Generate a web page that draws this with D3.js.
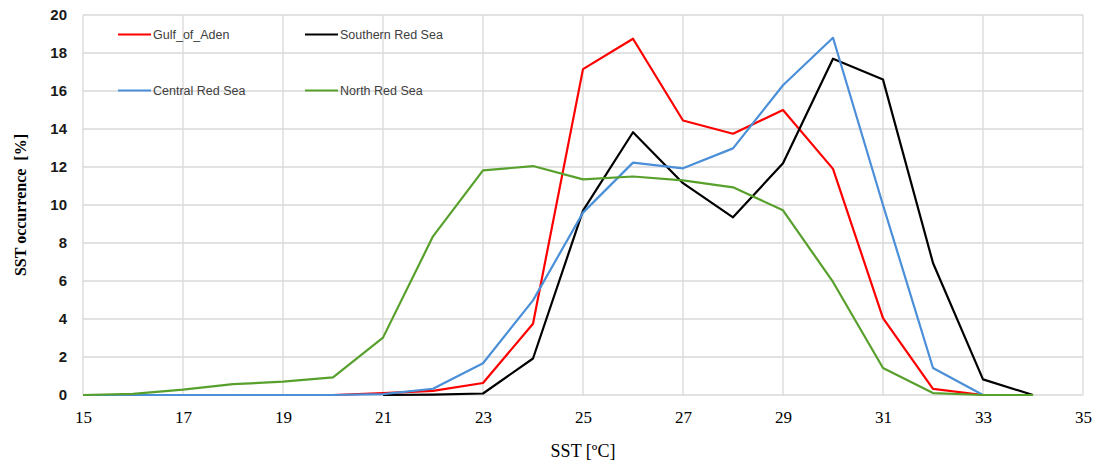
<!DOCTYPE html>
<html>
<head>
<meta charset="utf-8">
<script src="https://cdn.jsdelivr.net/npm/d3@7"></script>
<style>
  body { margin: 0; background: #fff; }
  svg { display: block; }
</style>
</head>
<body>
<script>
(function (d3) {
  "use strict";

  /***** Data *****/
  var sst = d3.range(15, 35); // 15 .. 34
  var seriesNames = ["Gulf_of_Aden", "Southern Red Sea", "Central Red Sea", "North Red Sea"];
  var seriesColors = ["#ff0000", "#000000", "#4a8fd8", "#58a02c"];

  // null = no value for that temperature
  var gulfOfAden = [null, null, null, null, null, 0, 0.1, 0.22, 0.63, 3.75, 17.15, 18.75, 14.45, 13.75, 15.0, 11.9, 4.05, 0.32, 0, null];
  var southernRedSea = [null, null, null, null, null, null, 0, 0.02, 0.08, 1.92, 9.7, 13.83, 11.15, 9.35, 12.2, 17.7, 16.6, 6.95, 0.82, 0];
  var centralRedSea = [0, 0, 0, 0, 0, 0, 0.05, 0.33, 1.67, 4.98, 9.6, 12.23, 11.93, 12.98, 16.3, 18.8, 10.0, 1.42, 0, null];
  var northRedSea = [0, 0.06, 0.28, 0.57, 0.7, 0.93, 3.02, 8.35, 11.82, 12.05, 11.35, 11.5, 11.3, 10.93, 9.72, 5.95, 1.42, 0.1, 0, 0];

  var xTicks = d3.range(15, 36, 2);
  var yTicks = d3.range(0, 21, 2);

  /***** Configuration *****/
  var margin = { top: 15, right: 19, bottom: 69, left: 83 };
  var width = 1102 - margin.left - margin.right;
  var height = 464 - margin.top - margin.bottom;

  /***** Scales *****/
  var x = d3.scaleLinear().domain([15, 35]).range([0, width]);
  var y = d3.scaleLinear().domain([0, 20]).range([height, 0]);

  var svg = d3.select("body")
    .append("svg")
    .attr("width", width + margin.left + margin.right)
    .attr("height", height + margin.top + margin.bottom);

  var g = svg.append("g")
    .attr("transform", "translate(" + margin.left + "," + margin.top + ")");

  /***** Grid *****/
  g.append("g")
    .selectAll("line.hgrid")
    .data(yTicks)
    .join("line")
    .attr("x1", 0).attr("x2", width)
    .attr("y1", d => y(d)).attr("y2", d => y(d))
    .attr("stroke", "#d9d9d9").attr("stroke-width", 1.3);

  g.append("g")
    .selectAll("line.vgrid")
    .data(xTicks)
    .join("line")
    .attr("x1", d => x(d)).attr("x2", d => x(d))
    .attr("y1", 0).attr("y2", height)
    .attr("stroke", "#d9d9d9").attr("stroke-width", 1.3);

  /***** Axes *****/
  var yAxis = g.append("g")
    .call(d3.axisLeft(y).tickValues(yTicks).tickSize(0).tickPadding(16));
  yAxis.select(".domain").remove();
  yAxis.selectAll("text")
    .style("font-family", "'Liberation Sans', Arial, sans-serif")
    .style("font-weight", "bold")
    .style("font-size", "15px")
    .attr("fill", "#1a1a1a");

  var xAxis = g.append("g")
    .attr("transform", "translate(0," + height + ")")
    .call(d3.axisBottom(x).tickValues(xTicks).tickSize(0).tickPadding(16));
  xAxis.select(".domain").remove();
  xAxis.selectAll("text")
    .style("font-family", "'Liberation Serif', 'Times New Roman', serif")
    .style("font-size", "17px")
    .attr("fill", "#000");

  /***** Lines *****/
  var allSeries = [gulfOfAden, southernRedSea, centralRedSea, northRedSea];
  var line = d3.line()
    .defined(d => d.v !== null)
    .x(d => x(d.t))
    .y(d => y(d.v));

  allSeries.forEach(function (vals, i) {
    var pts = sst.map((t, j) => ({ t: t, v: vals[j] }));
    g.append("path")
      .datum(pts)
      .attr("fill", "none")
      .attr("stroke", seriesColors[i])
      .attr("stroke-width", 2.2)
      .attr("stroke-linejoin", "round")
      .attr("d", line);
  });

  /***** Legend *****/
  var legendPos = [[118, 34.5], [305, 34.5], [118, 90.5], [305, 90.5]];
  var legend = svg.append("g");
  seriesNames.forEach(function (name, i) {
    var p = legendPos[i];
    legend.append("line")
      .attr("x1", p[0]).attr("x2", p[0] + 33)
      .attr("y1", p[1]).attr("y2", p[1])
      .attr("stroke", seriesColors[i]).attr("stroke-width", 2.2);
    legend.append("text")
      .attr("x", p[0] + 35).attr("y", p[1] + 4.5)
      .style("font-family", "'Liberation Sans', Arial, sans-serif")
      .style("font-size", "12.5px")
      .attr("fill", "#404040")
      .text(name);
  });

  /***** Axis titles *****/
  svg.append("text")
    .attr("x", margin.left + x(25)).attr("y", 457)
    .attr("text-anchor", "middle")
    .style("font-family", "'Liberation Serif', 'Times New Roman', serif")
    .style("font-size", "18px")
    .text("SST [ºC]");

  svg.append("text")
    .attr("transform", "translate(26," + (margin.top + y(10)) + ") rotate(-90)")
    .attr("text-anchor", "middle")
    .style("font-family", "'Liberation Serif', 'Times New Roman', serif")
    .style("font-size", "16px")
    .style("font-weight", "bold")
    .attr("xml:space", "preserve")
    .style("white-space", "pre")
    .text("SST occurrence  [%]");

})(d3);
</script>
</body>
</html>
